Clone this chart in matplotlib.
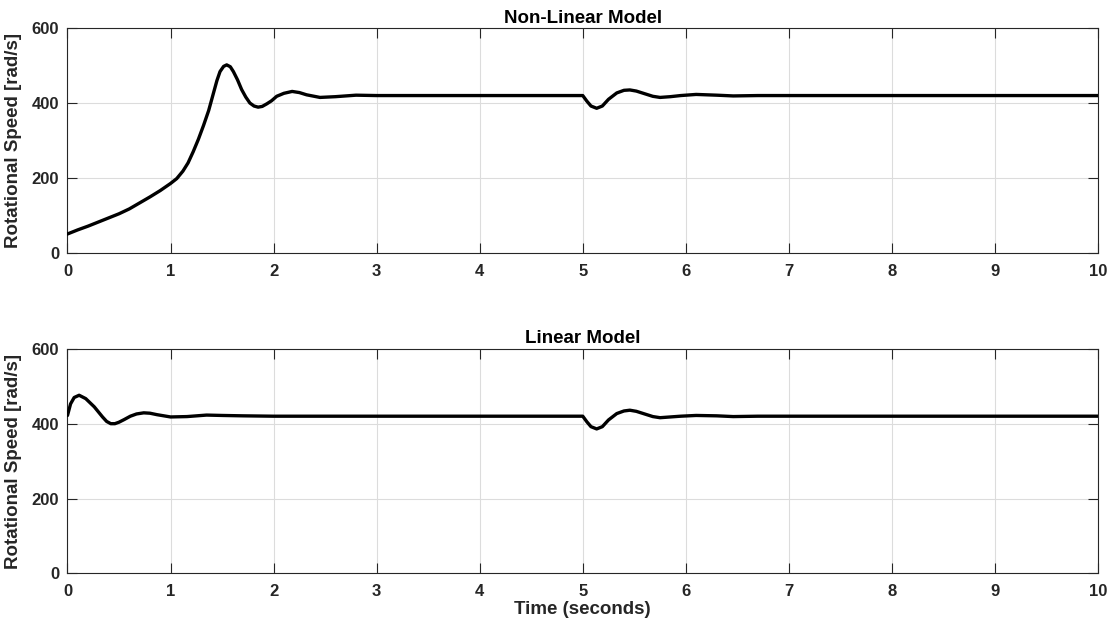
import matplotlib
matplotlib.use("Agg")
import matplotlib.pyplot as plt

# ---------------- data ----------------
t_nonlinear = [0.0, 0.1, 0.2, 0.3, 0.4, 0.5, 0.6, 0.7, 0.8, 0.9, 1.0,
               1.06, 1.12, 1.17, 1.22, 1.27, 1.32, 1.37, 1.415, 1.45, 1.48, 1.515,
               1.545, 1.58, 1.61, 1.65, 1.69, 1.73, 1.77, 1.81, 1.85, 1.89,
               1.935, 1.98, 2.03, 2.1, 2.18, 2.25, 2.32, 2.45, 2.6, 2.8, 3.0,
               5.0, 5.04, 5.08, 5.135, 5.19, 5.25, 5.33, 5.4, 5.457, 5.52,
               5.6, 5.68, 5.75, 5.85, 5.95, 6.1, 6.3, 6.46, 6.7, 10.0]
v_nonlinear = [50, 61, 71, 82, 93, 104, 117, 133, 149, 166, 185,
               198, 218, 240, 270, 303, 340, 380, 425, 460, 484, 498,
               502, 497, 484, 462, 436, 416, 400, 392, 389, 391,
               398, 406, 418, 426, 431, 428, 422, 415, 417, 421, 420,
               420, 405, 392, 386, 392, 410, 427, 434, 435, 432,
               425, 418, 415, 417, 420, 423, 421, 419, 420, 420]

t_linear = [0.0, 0.03, 0.065, 0.113, 0.177, 0.26, 0.34, 0.38, 0.42, 0.46,
            0.5, 0.55, 0.61, 0.67, 0.74, 0.8, 0.87, 1.0, 1.16, 1.35, 1.5,
            1.7, 2.0,
            5.0, 5.04, 5.08, 5.135, 5.19, 5.25, 5.33, 5.4, 5.457, 5.52,
            5.6, 5.68, 5.75, 5.85, 5.95, 6.1, 6.3, 6.46, 6.7, 10.0]
v_linear = [422, 453, 470, 476, 467, 445, 418, 406, 400, 400,
            404, 411, 420, 426, 429, 428, 424, 418, 419, 423, 422,
            421, 420,
            420, 405, 392, 386, 392, 410, 427, 434, 436, 433,
            426, 419, 416, 418, 420, 422, 421, 419, 420, 420]

titles = ["Non-Linear Model", "Linear Model"]
ylabel = "Rotational Speed [rad/s]"
xlabel = "Time (seconds)"
xticks = list(range(0, 11))
yticks = [0, 200, 400, 600]

# ---------------- style ----------------
plt.rcParams["font.family"] = ["Liberation Sans", "DejaVu Sans"]
plt.rcParams["font.weight"] = "bold"
txt = "#262626"

fig = plt.figure(figsize=(11.1, 6.27), dpi=100)
ax1 = fig.add_axes([0.0608, 0.597, 0.9284, 0.358])
ax2 = fig.add_axes([0.0608, 0.0856, 0.9284, 0.358])

for ax, t, v, title in [(ax1, t_nonlinear, v_nonlinear, titles[0]),
                        (ax2, t_linear, v_linear, titles[1])]:
    ax.plot(t, v, color="black", lw=2.4, solid_joinstyle="round",
            solid_capstyle="round", zorder=3)
    ax.set_xlim(0, 10)
    ax.set_ylim(0, 600)
    ax.set_xticks(xticks)
    ax.set_yticks(yticks)
    ax.grid(True, color="#dcdcdc", lw=0.8)
    ax.set_axisbelow(True)
    ax.tick_params(direction="in", length=7, width=0.8, colors=txt,
                   labelsize=12, top=True, right=True)
    ax.tick_params(axis="x", pad=8)
    ax.tick_params(axis="y", pad=6)
    for lab in ax.get_xticklabels() + ax.get_yticklabels():
        lab.set_fontweight("bold")
    for s in ax.spines.values():
        s.set_color(txt)
        s.set_linewidth(0.8)
    ax.set_title(title, fontsize=13.5, fontweight="bold", color="black", pad=4)
    ax.set_ylabel(ylabel, fontsize=13.5, fontweight="bold", color=txt, labelpad=7)

ax2.set_xlabel(xlabel, fontsize=13.5, fontweight="bold", color=txt, labelpad=1)

fig.savefig("out.png", dpi=100, facecolor="white")
